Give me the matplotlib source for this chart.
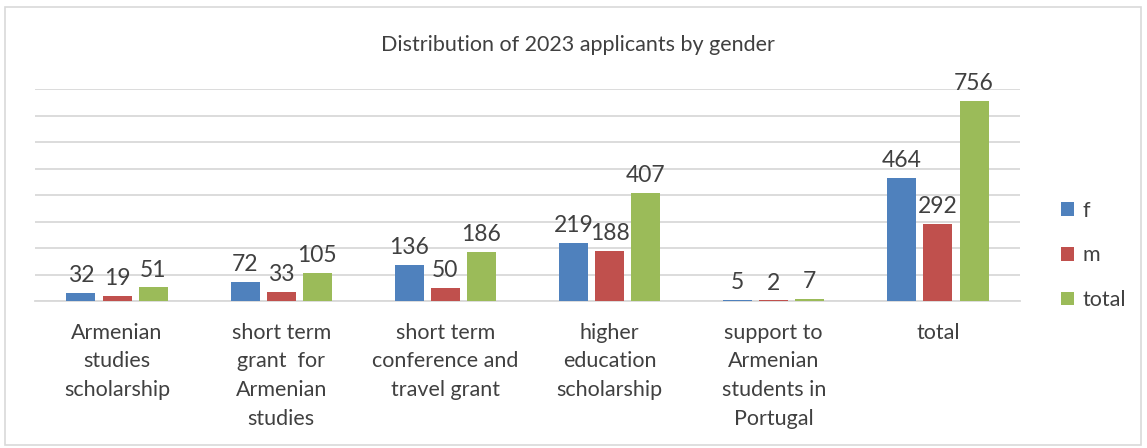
import numpy as np
import matplotlib
matplotlib.use("Agg")
import matplotlib.pyplot as plt
from matplotlib.patches import Rectangle

plt.rcParams['font.family'] = ['Lato', 'DejaVu Sans']

categories = ["Armenian\nstudies\nscholarship",
              "short term\ngrant  for\nArmenian\nstudies",
              "short term\nconference and\ntravel grant",
              "higher\neducation\nscholarship",
              "support to\nArmenian\nstudents in\nPortugal",
              "total"]
f_vals = [32, 72, 136, 219, 5, 464]
m_vals = [19, 33, 50, 188, 2, 292]
total_vals = [51, 105, 186, 407, 7, 756]

series = [("f", f_vals, "#4F81BD"),
          ("m", m_vals, "#C0504D"),
          ("total", total_vals, "#9BBB59")]

fig = plt.figure(figsize=(11.47, 4.48), dpi=100)
# outer chart border
fig.patches.append(Rectangle((5/1147, 3/448), 1136/1147, 438/448, transform=fig.transFigure,
                             fill=False, edgecolor="#d9d9d9", lw=1.2))

ax = fig.add_axes([35/1147, 1 - 301/448, 985/1147, 212/448])
x = np.arange(len(categories))
w = 0.177
step = 0.22
txt = "#404040"
for i, (name, vals, col) in enumerate(series):
    pos = x + (i - 1) * step
    bars = ax.bar(pos, vals, width=w, color=col, label=name, zorder=3)
    for b, v in zip(bars, vals):
        ax.annotate(str(v), (b.get_x() + b.get_width() / 2, v), xytext=(0, 5),
                    textcoords="offset points", ha="center", va="bottom",
                    fontsize=16.5, color=txt)

ax.set_ylim(0, 800)
ax.set_xlim(-0.5, len(categories) - 0.5)
ax.set_yticks(np.arange(0, 801, 100))
ax.yaxis.grid(True, color="#d9d9d9", lw=1.3)
ax.tick_params(axis="y", left=False, labelleft=False)
ax.tick_params(axis="x", bottom=False, pad=12)
ax.set_xticks(x)
ax.set_xticklabels(categories, fontsize=15.5, color=txt, linespacing=1.55, va="top")
for s in ["top", "right", "left"]:
    ax.spines[s].set_visible(False)
ax.spines["bottom"].set_color("#d9d9d9")
ax.spines["bottom"].set_linewidth(1.3)

fig.text(578/1147, 1 - 45/448, "Distribution of 2023 applicants by gender",
         ha="center", va="center", fontsize=15.5, color=txt)

leg = ax.legend(loc="center left", bbox_to_anchor=(1.022, 0.215), frameon=False,
                fontsize=15.5, handlelength=0.6, handleheight=0.6, handletextpad=0.4,
                labelspacing=1.15)
for t in leg.get_texts():
    t.set_color(txt)

fig.savefig("out.png", dpi=100)
